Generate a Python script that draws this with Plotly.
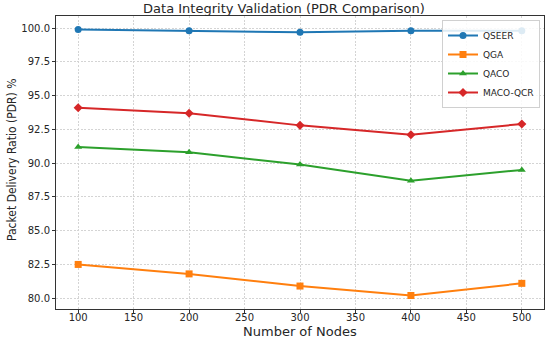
import plotly.graph_objects as go

nodes = [100, 200, 300, 400, 500]
qseer = [99.9, 99.8, 99.7, 99.8, 99.8]
qga = [82.5, 81.8, 80.9, 80.2, 81.1]
qaco = [91.2, 90.8, 89.9, 88.7, 89.5]
maco_qcr = [94.1, 93.7, 92.8, 92.1, 92.9]

series = [
    ("QSEER", qseer, "#1f77b4", "circle"),
    ("QGA", qga, "#ff7f0e", "square"),
    ("QACO", qaco, "#2ca02c", "triangle-up"),
    ("MACO-QCR", maco_qcr, "#d62728", "diamond"),
]

fig = go.Figure()
for name, vals, col, sym in series:
    fig.add_trace(go.Scatter(
        x=nodes, y=vals, name=name, mode="lines+markers",
        line=dict(color=col, width=2),
        marker=dict(symbol=sym, size=7, color=col),
    ))

W, H = 550, 339
L, R, T, B = 56, 6, 16, 30
PW, PH = W - L - R, H - T - B

fig.update_layout(
    width=W, height=H,
    margin=dict(l=L, r=R, t=T, b=B, autoexpand=False),
    paper_bgcolor="white", plot_bgcolor="white",
    font=dict(family="DejaVu Sans", size=10, color="#262626"),
    title=dict(text="Data Integrity Validation (PDR Comparison)", x=284 / W, xanchor="center",
               y=1 - 8 / H, yanchor="middle", font=dict(size=13, color="#262626")),
    legend=dict(x=1 - 4 / PW, y=1 - 4 / PH, xanchor="right", yanchor="top",
                bgcolor="rgba(255,255,255,0.85)", bordercolor="#d0d0d0", borderwidth=1,
                font=dict(size=9), tracegroupgap=0, itemwidth=30),
    showlegend=True,
    annotations=[
        dict(text="Number of Nodes", xref="paper", yref="paper",
             x=(300 - L) / PW, y=-(331 - (H - B)) / PH,
             xanchor="center", yanchor="middle", showarrow=False,
             font=dict(size=13, color="#262626")),
        dict(text="Packet Delivery Ratio (PDR) %", xref="paper", yref="paper",
             x=-(L - 12) / PW, y=1 - (160 - T) / PH,
             xanchor="center", yanchor="middle", showarrow=False, textangle=-90,
             font=dict(size=12, family="DejaVu Sans Condensed, Liberation Sans Narrow, DejaVu Sans", color="#262626")),
    ],
)
grid = dict(showgrid=True, gridcolor="#d4d4d4", griddash="2px,1.5px", gridwidth=1)
fig.update_xaxes(
    range=[80, 520], tickvals=[100, 150, 200, 250, 300, 350, 400, 450, 500],
    showline=True, linecolor="#333333", linewidth=1, mirror=True,
    ticks="outside", ticklen=3, tickcolor="#333333", automargin=False,
    ticklabelstandoff=-4, zeroline=False, **grid,
)
fig.update_yaxes(
    range=[79.2, 100.9], tickvals=[80, 82.5, 85, 87.5, 90, 92.5, 95, 97.5, 100],
    tickformat=".1f",
    showline=True, linecolor="#333333", linewidth=1, mirror=True,
    ticks="outside", ticklen=3, tickcolor="#333333", automargin=False,
    zeroline=False, **grid,
)

fig.write_html("out.html", config={"displayModeBar": False},
               post_script="document.body.style.margin='0';document.body.style.overflow='hidden';")
